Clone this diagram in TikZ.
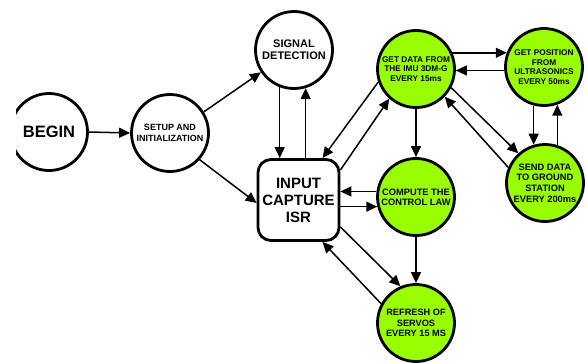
\documentclass[tikz,border=0pt]{standalone}
\usepackage{fontspec}
\setmainfont{Liberation Sans}
\usepackage{tikz}
\usetikzlibrary{arrows.meta}

\definecolor{limegreen}{HTML}{99FF00}

\tikzset{
  state/.style={circle,draw=black,line width=2.8pt,minimum size=77pt,inner sep=0pt,align=center},
  busy/.style={state,fill=limegreen},
  isrbox/.style={rectangle,rounded corners=13pt,draw=black,line width=2.8pt,minimum width=81pt,minimum height=81pt,inner sep=0pt,align=center},
  fs/.style 2 args={font=\bfseries\fontsize{#1}{#2}\selectfont},
  arr/.style={line width=1.5pt,-{Triangle[length=11pt,width=10pt]}}
}

\begin{document}
\begin{tikzpicture}[x=1pt,y=-1pt]
  \useasboundingbox (0,0) rectangle (587,362);
  \clip (16,0) rectangle (587,362);
  % states
  \node[state,fs={16.5}{19}] (begin) at (49,132) {BEGIN};
  \node[state,fs={9}{10.7}] (setup) at (170,133) {SETUP AND\\INITIALIZATION};
  \node[state,fs={11}{12}] (sig) at (294,50) {SIGNAL\\DETECTION};
  \node[isrbox,fs={15}{17}] (isr) at (298.5,200) {INPUT\\CAPTURE\\ISR};
  \node[busy,fs={8.3}{9.3}] (gd) at (416,69) {GET DATA FROM\\THE IMU 3DM-G\\EVERY 15ms};
  \node[busy,fs={8.3}{9.5}] (gp) at (544,67) {GET POSITION\\FROM\\ULTRASONICS\\EVERY 50ms};
  \node[busy,fs={9.3}{10.8}] (snd) at (545,183) {SEND DATA\\TO GROUND\\STATION\\EVERY 200ms};
  \node[busy,fs={9.3}{10}] (cmp) at (416,197) {COMPUTE THE\\CONTROL LAW};
  \node[busy,fs={9.2}{10.5}] (rf) at (416,323) {REFRESH OF\\SERVOS\\EVERY 15 MS};
  % transitions
  \draw[arr] (begin.east) -- (setup.west);
  \draw[arr] (setup.32) -- (sig.214);
  \draw[arr] (setup.-42) -- ([yshift=-3pt]isr.west);
  \draw[arr] (sig.-111) -- (sig.-111 |- isr.north);
  \draw[arr] (isr.north -| sig.-73) -- (sig.-73);
  \draw[arr] (gd.199) -- ([xshift=24pt]isr.north);
  \draw[arr] ([yshift=30pt]isr.east) -- (gd.228);
  \draw[arr] (gd.south) -- (cmp.north);
  \draw[arr] (cmp.172) -- (cmp.172 -| isr.east);
  \draw[arr] (isr.east |- cmp.194) -- (cmp.194);
  \draw[arr] (cmp.south) -- (rf.north);
  \draw[arr] ([yshift=-27pt]isr.east) -- (rf.113);
  \draw[arr] (rf.151) -- ([xshift=24pt]isr.south);
  \draw[arr] (gd.24) -- (gd.24 -| gp.159);
  \draw[arr] (gp.185) -- (gp.185 -| gd.356);
  \draw[arr] (gd.-28) -- (snd.132);
  \draw[arr] (snd.157) -- (gd.-44);
  \draw[arr] (gp.-105) -- (gp.-105 |- snd.106);
  \draw[arr] (snd.72) -- (snd.72 |- gp.-71);
\end{tikzpicture}
\end{document}
